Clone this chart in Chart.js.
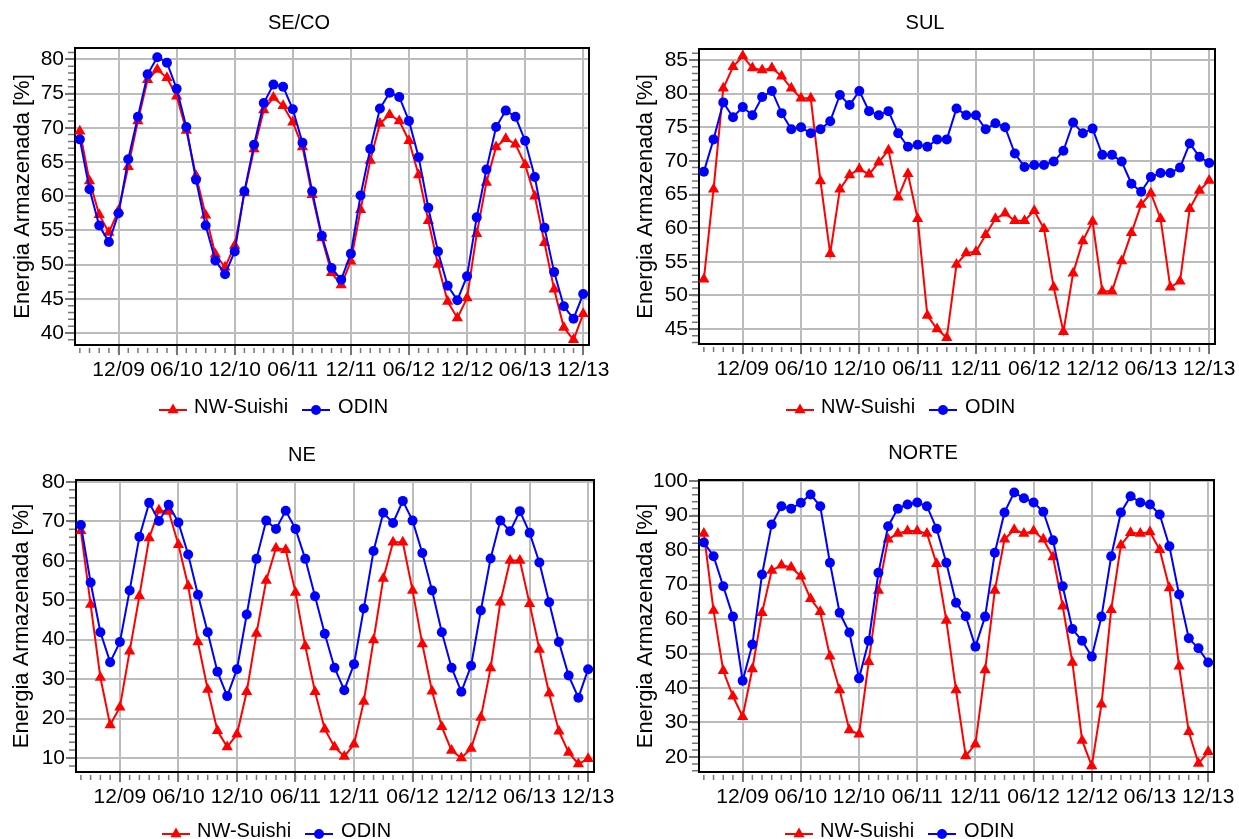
<!DOCTYPE html>
<html>
<head>
<meta charset="utf-8">
<script src="https://cdn.jsdelivr.net/npm/chart.js@4.4.1/dist/chart.umd.min.js"></script>
<style>
  body { margin: 0; background: #fff; }
  #pagina { position: relative; width: 1239px; height: 839px; overflow: hidden; font-family: 'Liberation Sans', Arial, sans-serif; }
  .painel { position: absolute; width: 620px; height: 420px; }
  .painel canvas { position: absolute; left: 0; top: 0; }
  .legenda { position: absolute; font-size: 20px; line-height: 20px; white-space: nowrap; color: #000; }
  .legenda svg { vertical-align: -5px; }
</style>
</head>
<body>
<div id="pagina">
  <div class="painel" id="p-seco" style="left:0;top:0"><canvas id="seco" width="620" height="420"></canvas></div>
  <div class="painel" id="p-sul" style="left:620px;top:0"><canvas id="sul" width="620" height="420"></canvas></div>
  <div class="painel" id="p-ne" style="left:0;top:420px"><canvas id="ne" width="620" height="420"></canvas></div>
  <div class="painel" id="p-norte" style="left:620px;top:420px"><canvas id="norte" width="620" height="420"></canvas></div>
</div>
<script>
// meses (08/2009 a 12/2013)
const meses = [
  "08/09", "09/09", "10/09", "11/09", "12/09",
  "01/10", "02/10", "03/10", "04/10", "05/10", "06/10", "07/10", "08/10", "09/10", "10/10", "11/10", "12/10",
  "01/11", "02/11", "03/11", "04/11", "05/11", "06/11", "07/11", "08/11", "09/11", "10/11", "11/11", "12/11",
  "01/12", "02/12", "03/12", "04/12", "05/12", "06/12", "07/12", "08/12", "09/12", "10/12", "11/12", "12/12",
  "01/13", "02/13", "03/13", "04/13", "05/13", "06/13", "07/13", "08/13", "09/13", "10/13", "11/13", "12/13"
];
const rotulosX = ["12/09", "06/10", "12/10", "06/11", "12/11", "06/12", "12/12", "06/13", "12/13"];

const secoSuishi = [69.5, 62.2, 57.3, 54.7, 57.9, 64.3, 71.0, 77.0, 78.5, 77.3, 74.6, 69.6, 63.0, 57.2, 51.5, 49.6, 52.8,
  60.5, 66.9, 72.6, 74.4, 73.2, 70.8, 67.2, 60.2, 53.9, 48.8, 47.0, 50.5, 58.0, 65.2, 70.6, 71.9, 71.0, 68.1,
  63.1, 56.4, 50.0, 44.6, 42.2, 45.1, 54.5, 62.0, 67.2, 68.4, 67.6, 64.6, 60.0, 53.2, 46.4, 40.8, 39.0, 42.8];
const secoOdin = [68.3, 61.0, 55.7, 53.3, 57.5, 65.4, 71.6, 77.8, 80.3, 79.5, 75.7, 70.1, 62.4, 55.7, 50.6, 48.6, 51.9,
  60.7, 67.5, 73.6, 76.3, 76.0, 72.7, 67.8, 60.7, 54.2, 49.5, 47.8, 51.6, 60.1, 66.9, 72.8, 75.1, 74.5, 71.0,
  65.7, 58.3, 51.9, 46.9, 44.8, 48.3, 56.9, 63.9, 70.1, 72.5, 71.6, 68.1, 62.8, 55.4, 48.9, 43.9, 42.1, 45.7];

const sulSuishi = [52.4, 65.8, 80.8, 84.0, 85.6, 83.8, 83.5, 83.8, 82.6, 80.8, 79.3, 79.3, 67.0, 56.2, 65.8, 67.9, 68.8,
  68.0, 69.8, 71.6, 64.6, 68.1, 61.4, 47.0, 45.0, 43.7, 54.6, 56.3, 56.5, 59.0, 61.4, 62.2, 61.1, 61.1, 62.6,
  59.9, 51.2, 44.6, 53.3, 58.1, 61.0, 50.6, 50.6, 55.1, 59.3, 63.5, 65.2, 61.4, 51.2, 52.1, 62.9, 65.6, 67.1];
const sulOdin = [68.4, 73.2, 78.7, 76.5, 78.0, 76.8, 79.5, 80.4, 77.1, 74.7, 75.0, 74.1, 74.7, 75.9, 79.8, 78.3, 80.4,
  77.4, 76.8, 77.4, 74.1, 72.1, 72.4, 72.1, 73.2, 73.2, 77.8, 76.8, 76.8, 74.7, 75.6, 75.0, 71.1, 69.1, 69.4,
  69.4, 69.9, 71.5, 75.7, 74.1, 74.8, 70.9, 70.9, 69.9, 66.6, 65.4, 67.6, 68.2, 68.2, 69.0, 72.6, 70.6, 69.7];

const neSuishi = [67.6, 48.9, 30.4, 18.4, 22.9, 37.1, 51.1, 65.8, 72.8, 72.5, 64.1, 53.6, 39.4, 27.4, 16.9, 12.8, 16.0,
  26.8, 41.6, 55.0, 63.2, 62.8, 52.0, 38.4, 26.8, 17.3, 12.8, 10.4, 13.5, 24.3, 39.9, 55.5, 64.7, 64.7, 52.5,
  38.9, 26.9, 17.9, 11.9, 10.0, 12.4, 20.3, 32.8, 49.5, 60.1, 60.1, 49.1, 37.5, 26.4, 16.8, 11.4, 8.5, 9.8];
const neOdin = [69.1, 54.5, 41.9, 34.3, 39.4, 52.5, 66.1, 74.7, 70.1, 74.2, 69.7, 61.6, 51.4, 41.9, 31.9, 25.7, 32.5,
  46.4, 60.5, 70.2, 68.1, 72.7, 68.1, 60.5, 51.0, 41.5, 32.9, 27.2, 33.8, 47.9, 62.5, 72.2, 69.6, 75.2, 70.2,
  62.0, 52.5, 41.9, 32.9, 26.8, 33.4, 47.4, 60.6, 70.2, 67.5, 72.6, 67.1, 59.6, 49.5, 39.4, 30.9, 25.3, 32.5];

const norteSuishi = [84.8, 62.5, 45.0, 37.6, 31.7, 45.5, 61.8, 74.1, 75.6, 75.0, 72.4, 65.9, 62.1, 49.2, 39.4, 27.8, 26.6,
  47.6, 68.3, 83.1, 84.8, 85.5, 85.5, 84.8, 76.0, 59.6, 39.4, 20.3, 23.7, 45.2, 68.3, 83.1, 85.9, 84.8, 85.5,
  83.1, 78.0, 63.7, 47.4, 24.8, 17.4, 35.3, 62.7, 81.4, 85.0, 84.8, 85.2, 80.1, 69.0, 46.3, 27.3, 18.1, 21.5];
const norteOdin = [82.2, 78.2, 69.5, 60.7, 42.1, 52.6, 72.9, 87.4, 92.7, 92.0, 93.7, 96.1, 92.7, 76.3, 61.8, 56.1, 42.8,
  53.7, 73.4, 86.9, 92.0, 93.2, 93.8, 92.7, 86.2, 76.3, 64.7, 60.8, 52.0, 60.7, 79.2, 90.9, 96.7, 95.0, 93.8,
  91.1, 82.8, 69.5, 57.1, 53.7, 49.1, 60.7, 78.2, 90.9, 95.6, 93.8, 93.2, 90.3, 81.1, 67.1, 54.4, 51.5, 47.4];

const VERMELHO = "#ff0000";
const AZUL = "#0000ff";
const GRADE = "#bcbcbc";
const MARCA = "#767676";

Chart.defaults.font.family = "'Liberation Sans', Arial, sans-serif";
Chart.defaults.color = "#000";

// posicoes de cada painel (pixels dentro do canvas)
const paineis = [
  { id: "seco", titulo: "SE/CO", suishi: secoSuishi, odin: secoOdin, yMin: 38.25, yMax: 81.65, passo: 5, menor: 1,
    esq: 75, dir: 589, topo: 48, base: 345, tituloY: 23, tituloX: 299, yTituloX: 22.5, legX: 159, legY: 396 },
  { id: "sul", titulo: "SUL", suishi: sulSuishi, odin: sulOdin, yMin: 42.77, yMax: 86.64, passo: 5, menor: 1,
    esq: 79, dir: 595, topo: 49, base: 344, tituloY: 23, tituloX: 305, yTituloX: 26, legX: 166, legY: 396 },
  { id: "ne", titulo: "NE", suishi: neSuishi, odin: neOdin, yMin: 6.45, yMax: 80.5, passo: 10, menor: 2,
    esq: 76, dir: 594, topo: 60, base: 352, tituloY: 35, tituloX: 302, yTituloX: 21.5, legX: 162, legY: 400 },
  { id: "norte", titulo: "NORTE", suishi: norteSuishi, odin: norteOdin, yMin: 15.65, yMax: 100.3, passo: 10, menor: 2,
    esq: 79, dir: 594, topo: 60, base: 352, tituloY: 33, tituloX: 303, yTituloX: 26, legX: 165, legY: 400 }
];

// marquinhas menores nos eixos
const marcasMenores = {
  id: "marcasMenores",
  afterDraw(chart, args, opts) {
    const { ctx, chartArea: a, scales: { x, y } } = chart;
    ctx.save();
    ctx.strokeStyle = MARCA;
    ctx.lineWidth = 1.5;
    ctx.beginPath();
    for (let v = Math.ceil(x.min); v <= x.max; v++) {
      const px = x.getPixelForValue(v);
      ctx.moveTo(px, a.bottom + 3);
      ctx.lineTo(px, a.bottom + 8);
    }
    for (let v = Math.ceil(y.min / opts.passo) * opts.passo; v <= y.max; v += opts.passo) {
      const py = y.getPixelForValue(v);
      ctx.moveTo(a.left - 7, py);
      ctx.lineTo(a.left - 1, py);
    }
    ctx.stroke();
    ctx.restore();
  }
};

const moldura = {
  id: "moldura",
  beforeDatasetsDraw(chart) {
    const { ctx, chartArea: a } = chart;
    ctx.save();
    ctx.strokeStyle = "#000";
    ctx.lineWidth = 2;
    ctx.strokeRect(a.left, a.top, a.right - a.left, a.bottom - a.top);
    ctx.restore();
  }
};

function pontos(valores) {
  return valores.map((v, i) => ({ x: i, y: v }));
}

function criarGrafico(p) {
  const pl = 2 * p.tituloX - p.dir;
  new Chart(document.getElementById(p.id), {
    type: "line",
    data: {
      datasets: [
        {
          label: "NW-Suishi", data: pontos(p.suishi), order: 1, clip: false,
          borderColor: VERMELHO, backgroundColor: VERMELHO, borderWidth: 2, tension: 0,
          pointStyle: "triangle", pointRadius: 6.5, pointBorderWidth: 0, pointBackgroundColor: VERMELHO
        },
        {
          label: "ODIN", data: pontos(p.odin), order: 0, clip: false,
          borderColor: AZUL, backgroundColor: AZUL, borderWidth: 2, tension: 0,
          pointStyle: "circle", pointRadius: 5, pointBorderWidth: 0, pointBackgroundColor: AZUL
        }
      ]
    },
    options: {
      responsive: false,
      animation: false,
      layout: { autoPadding: false, padding: { left: pl, right: 620 - p.dir, top: 0, bottom: 0 } },
      plugins: {
        legend: { display: false },
        tooltip: { enabled: false },
        title: {
          display: true, text: p.titulo, color: "#000",
          font: { size: 20, weight: "normal" },
          padding: { top: p.tituloY - 12, bottom: p.topo - p.tituloY - 12 }
        },
        marcasMenores: { passo: p.menor }
      },
      scales: {
        x: {
          type: "linear", min: -0.5, max: 52.6,
          afterBuildTicks: s => { s.ticks = rotulosX.map(r => ({ value: meses.indexOf(r) })); },
          afterFit: s => { s.height = 420 - p.base; },
          ticks: { callback: v => meses[v], autoSkip: false, maxRotation: 0, minRotation: 0, font: { size: 21 }, padding: 3 },
          grid: { color: GRADE, lineWidth: 2, tickLength: 10, tickColor: MARCA, tickWidth: 2 },
          border: { display: false }
        },
        y: {
          min: p.yMin, max: p.yMax,
          afterFit: s => { s.width = p.esq - pl; },
          ticks: { stepSize: p.passo, includeBounds: false, font: { size: 21 }, padding: 1 },
          grid: { color: GRADE, lineWidth: 2, tickLength: 10, tickColor: MARCA, tickWidth: 2 },
          border: { display: false },
          title: {
            display: true, text: "Energia Armazenada [%]", color: "#000",
            font: { size: 22 }, padding: { top: p.yTituloX - 13.2 - pl, bottom: 0 }
          }
        }
      }
    },
    plugins: [marcasMenores, moldura]
  });

  // legenda com linha + marcador
  const leg = document.createElement("div");
  leg.className = "legenda";
  leg.style.left = p.legX + "px";
  leg.style.top = p.legY + "px";
  leg.innerHTML = `
    <svg width="28" height="20"><line x1="0" y1="12" x2="28" y2="12" stroke="${VERMELHO}" stroke-width="2"/>
      <polygon points="14,5.5 19.6,15.3 8.4,15.3" fill="${VERMELHO}"/></svg><span style="margin-left:7px">NW-Suishi</span><svg width="28" height="20" style="margin-left:14px"><line x1="0" y1="12" x2="28" y2="12" stroke="${AZUL}" stroke-width="2"/>
      <circle cx="14" cy="12" r="5" fill="${AZUL}"/></svg><span style="margin-left:8px">ODIN</span>`;
  document.getElementById("p-" + p.id).appendChild(leg);
}

paineis.forEach(criarGrafico);
</script>
</body>
</html>
